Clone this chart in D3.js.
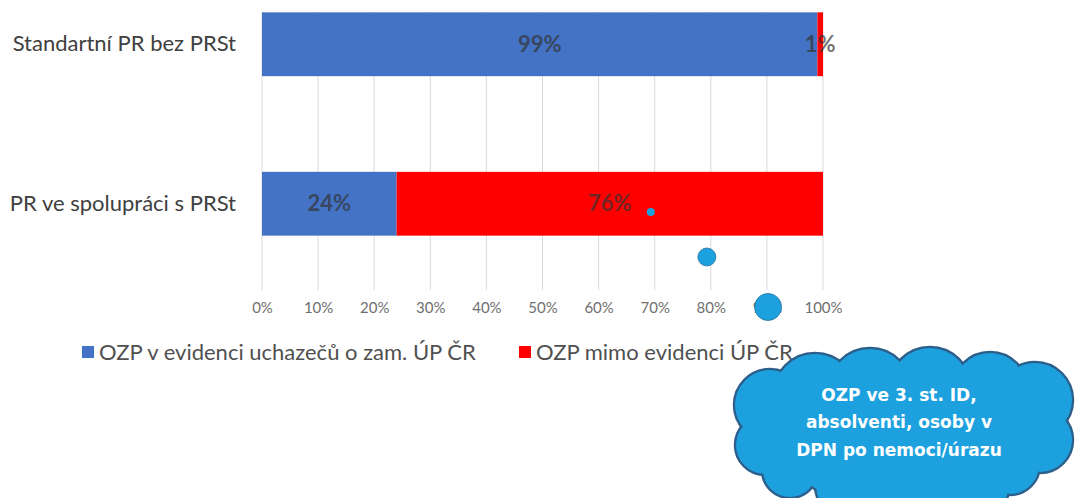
<!DOCTYPE html>
<html>
<head>
<meta charset="utf-8">
<script src="https://cdn.jsdelivr.net/npm/d3@7"></script>
<style>
  body { margin: 0; background: #fff; }
  text { font-family: Lato, "Open Sans", sans-serif; }
</style>
</head>
<body>
<div id="container"></div>
<script>
/* CONSTANTS AND GLOBALS */
const width = 1080;
const height = 498;

/* DATA */
const categories = ["Standartní PR bez PRSt", "PR ve spolupráci s PRSt"];
const seriesNames = ["OZP v evidenci uchazečů o zam. ÚP ČR", "OZP mimo evidenci ÚP ČR"];
const inEvidence = [0.99, 0.24];
const outEvidence = [0.01, 0.76];
const ticks = [0, 0.1, 0.2, 0.3, 0.4, 0.5, 0.6, 0.7, 0.8, 0.9, 1];
const colors = ["#4472C4", "#FF0000"];
const cloudLines = ["OZP ve 3. st. ID,", "absolventi, osoby v", "DPN po nemoci/úrazu"];
const bubbleAt = [0.693, 0.793, 0.902];

const rows = categories.map((c, i) => ({ cat: c, a: inEvidence[i], b: outEvidence[i] }));
const stack = d3.stack().keys(["a", "b"])(rows);

/* SCALES */
const xScale = d3.scaleLinear()
  .domain([0, 1])
  .range([262, 823]);

const yScale = d3.scaleBand()
  .domain(categories)
  .range([-35.5, 283.5])
  .paddingInner(0.6)
  .paddingOuter(0.3);

const svg = d3.select("#container")
  .append("svg")
  .attr("width", width)
  .attr("height", height);

// gridlines
svg.append("g")
  .selectAll("line")
  .data(ticks)
  .join("line")
  .attr("x1", d => xScale(d))
  .attr("x2", d => xScale(d))
  .attr("y1", 12)
  .attr("y2", 290)
  .attr("stroke", "#d9d9d9")
  .attr("stroke-width", 1);

// bars
svg.append("g")
  .selectAll("g")
  .data(stack)
  .join("g")
  .attr("fill", (d, i) => colors[i])
  .selectAll("rect")
  .data(d => d)
  .join("rect")
  .attr("x", d => xScale(d[0]))
  .attr("y", d => yScale(d.data.cat))
  .attr("width", d => xScale(d[1]) - xScale(d[0]))
  .attr("height", yScale.bandwidth());

// bar labels
svg.append("g")
  .selectAll("g")
  .data(stack)
  .join("g")
  .selectAll("text")
  .data(d => d)
  .join("text")
  .attr("x", d => xScale((d[0] + d[1]) / 2))
  .attr("y", d => yScale(d.data.cat) + yScale.bandwidth() / 2)
  .attr("dy", "0.35em")
  .attr("text-anchor", "middle")
  .attr("fill", "#333")
  .attr("fill-opacity", 0.7)
  .style("font-size", "22px")
  .style("font-weight", "bold")
  .text(d => Math.round((d[1] - d[0]) * 100) + "%");

// y axis labels
const yAxis = d3.axisLeft(yScale).tickSize(0).tickPadding(26);
svg.append("g")
  .attr("transform", `translate(${xScale(0)}, 0)`)
  .call(yAxis)
  .call(g => g.select(".domain").remove())
  .call(g => g.selectAll("text")
    .attr("fill", "#404040")
    .style("font-size", "22px")
    .style("font-family", "Lato, sans-serif"));

// x axis ticks
const xAxis = d3.axisBottom(xScale)
  .tickValues(ticks)
  .tickFormat(d3.format(".0%"))
  .tickSize(0)
  .tickPadding(0);
svg.append("g")
  .attr("transform", "translate(0, 302)")
  .call(xAxis)
  .call(g => g.select(".domain").remove())
  .call(g => g.selectAll("text")
    .attr("fill", "#6f6f6f")
    .style("font-size", "15px")
    .style("font-family", "Lato, sans-serif"));

// legend
const legend = svg.append("g")
  .attr("transform", "translate(0, 352)");
const legendX = [82, 519];
legend.selectAll("rect")
  .data(seriesNames)
  .join("rect")
  .attr("x", (d, i) => legendX[i])
  .attr("y", -6)
  .attr("width", 12)
  .attr("height", 12)
  .attr("fill", (d, i) => colors[i]);
legend.selectAll("text")
  .data(seriesNames)
  .join("text")
  .attr("x", (d, i) => legendX[i] + 17)
  .attr("y", 0)
  .attr("dy", "0.35em")
  .attr("fill", "#505050")
  .style("font-size", "22px")
  .text(d => d);

// thought bubbles
const bubbleY = [212, 257, 307];
const bubbleR = [4, 9, 13.5];
svg.append("g")
  .selectAll("circle")
  .data(bubbleAt)
  .join("circle")
  .attr("cx", d => xScale(d))
  .attr("cy", (d, i) => bubbleY[i])
  .attr("r", (d, i) => bubbleR[i])
  .attr("fill", "#1DA1DE")
  .attr("stroke", "#2a6fa0")
  .attr("stroke-width", (d, i) => i === 0 ? 0 : 0.8);

// cloud
const puffs = [
  [770, 405, 36], [815, 395, 42], [870, 390, 42], [930, 388, 41], [990, 390, 38],
  [1035, 400, 38], [1040, 440, 33], [1010, 465, 30], [765, 445, 30], [790, 470, 28],
  [850, 485, 35], [930, 490, 35], [980, 485, 30],
  [900, 435, 70], [840, 440, 55], [975, 440, 55]
];
const cloud = svg.append("g");
cloud.selectAll("circle.outline")
  .data(puffs)
  .join("circle")
  .attr("class", "outline")
  .attr("cx", d => d[0]).attr("cy", d => d[1]).attr("r", d => d[2])
  .attr("fill", "#1DA1DE")
  .attr("stroke", "#2d5f8c")
  .attr("stroke-width", 2.5);
cloud.selectAll("circle.fill")
  .data(puffs)
  .join("circle")
  .attr("class", "fill")
  .attr("cx", d => d[0]).attr("cy", d => d[1]).attr("r", d => d[2] - 1.25)
  .attr("fill", "#1DA1DE");
cloud.selectAll("text")
  .data(cloudLines)
  .join("text")
  .attr("x", 899)
  .attr("y", (d, i) => 395 + i * 27.5)
  .attr("dy", "0.35em")
  .attr("text-anchor", "middle")
  .attr("fill", "#fff")
  .style("font-family", "'DejaVu Sans', sans-serif")
  .style("font-size", "17px")
  .style("font-weight", "bold")
  .text(d => d);
</script>
</body>
</html>
